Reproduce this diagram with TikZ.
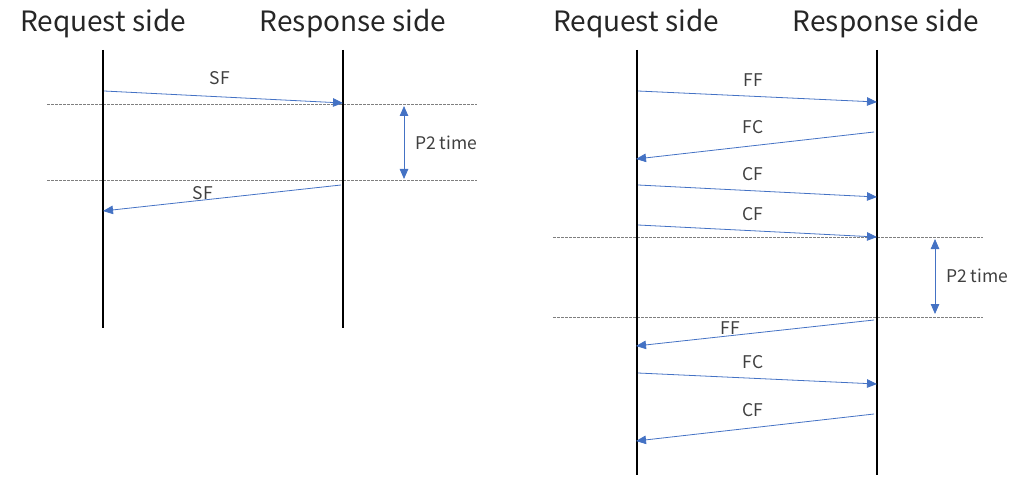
\documentclass[tikz,border=0pt]{standalone}
\usepackage{fontspec}
\setmainfont{Noto Sans CJK JP}
\usetikzlibrary{arrows.meta}
\definecolor{msgblue}{HTML}{4472C4}
\definecolor{dashgrey}{HTML}{7F7F7F}
\definecolor{headtext}{HTML}{262626}
\definecolor{labtext}{HTML}{404040}
\begin{document}
\begin{tikzpicture}[x=1pt,y=-1pt,
  lifeline/.style={line width=2pt,black},
  msg/.style={msgblue,line width=0.8pt,-{Triangle[length=10pt,width=8.5pt]}},
  dur/.style={msgblue,line width=0.8pt,{Triangle[length=10pt,width=8.5pt]}-{Triangle[length=10pt,width=8.5pt]}},
  sep/.style={dashgrey,line width=0.7pt,dash pattern=on 2.5pt off 1.5pt},
  head/.style={font=\fontsize{28}{32}\selectfont,text=headtext,inner sep=0pt},
  lab/.style={font=\fontsize{17.5}{20}\selectfont,text=labtext,inner sep=0pt}]
\useasboundingbox (0,0) rectangle (1024,478);
% ---------- left diagram ----------
\node[head] (reqA) at (103,24) {Request side};
\node[head] (resA) at (353,24) {Response side};
\coordinate (la1) at (103,50); \coordinate (la2) at (103,328);
\coordinate (ra1) at (343,50); \coordinate (ra2) at (343,328);
\draw[sep] (47,104) coordinate (da1) -- (477,104) coordinate (da2);
\draw[sep] (47,180) coordinate (db1) -- (477,180) coordinate (db2);
\draw[lifeline] (la1) -- (la2);
\draw[lifeline] (ra1) -- (ra2);
\coordinate (m1s) at (104,91); \coordinate (m1e) at (343,103);
\draw[msg] (m1s) -- (m1e);
\node[lab] (m1l) at (220,78) {SF};
\coordinate (m2s) at (341,185); \coordinate (m2e) at (103,211);
\draw[msg] (m2s) -- (m2e);
\node[lab] (m2l) at (203,193) {SF};
\coordinate (pa1) at (404,106); \coordinate (pa2) at (404,179);
\draw[dur] (pa1) -- (pa2);
\node[lab,anchor=west] (pal) at (415,143) {P2 time};
% ---------- right diagram ----------
\node[head] (reqB) at (636,24) {Request side};
\node[head] (resB) at (886,24) {Response side};
\coordinate (lb1) at (637,50); \coordinate (lb2) at (637,475);
\coordinate (rb1) at (877,50); \coordinate (rb2) at (877,475);
\draw[sep] (553,237) coordinate (dc1) -- (983,237) coordinate (dc2);
\draw[sep] (553,317) coordinate (dd1) -- (983,317) coordinate (dd2);
\draw[lifeline] (lb1) -- (lb2);
\draw[lifeline] (rb1) -- (rb2);
\coordinate (n1s) at (638,91); \coordinate (n1e) at (877,102);
\draw[msg] (n1s) -- (n1e);
\node[lab] (n1l) at (753,80) {FF};
\coordinate (n2s) at (874,132); \coordinate (n2e) at (636,159);
\draw[msg] (n2s) -- (n2e);
\node[lab] (n2l) at (753,127) {FC};
\coordinate (n3s) at (638,185); \coordinate (n3e) at (877,197);
\draw[msg] (n3s) -- (n3e);
\node[lab] (n3l) at (753,174) {CF};
\coordinate (n4s) at (638,225); \coordinate (n4e) at (877,237);
\draw[msg] (n4s) -- (n4e);
\node[lab] (n4l) at (753,214) {CF};
\coordinate (pb1) at (935,239); \coordinate (pb2) at (935,314);
\draw[dur] (pb1) -- (pb2);
\node[lab,anchor=west] (pbl) at (946,276) {P2 time};
\coordinate (n5s) at (874,320); \coordinate (n5e) at (636,346);
\draw[msg] (n5s) -- (n5e);
\node[lab] (n5l) at (730,328) {FF};
\coordinate (n6s) at (638,373); \coordinate (n6e) at (877,384);
\draw[msg] (n6s) -- (n6e);
\node[lab] (n6l) at (753,362) {FC};
\coordinate (n7s) at (874,414); \coordinate (n7e) at (636,441);
\draw[msg] (n7s) -- (n7e);
\node[lab] (n7l) at (753,410) {CF};
\end{tikzpicture}
\end{document}
